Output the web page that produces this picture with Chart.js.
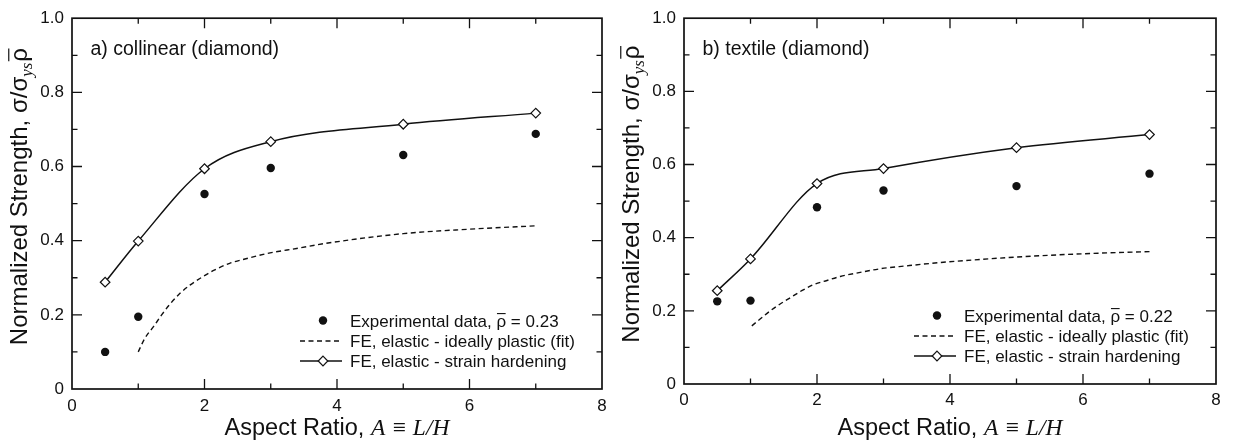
<!DOCTYPE html>
<html>
<head>
<meta charset="utf-8">
<script src="https://cdn.jsdelivr.net/npm/chart.js@4.4.1/dist/chart.umd.min.js"></script>
<style>
    html, body { margin: 0; padding: 0; background: #fff; }
    #wrap { position: relative; width: 1234px; height: 443px; }
    .panel { position: absolute; top: 0; width: 617px; height: 443px; }
</style>
</head>
<body>
<div id="wrap">
    <div class="panel" style="left:0"><canvas id="chartA"></canvas></div>
    <div class="panel" style="left:617px"><canvas id="chartB"></canvas></div>
</div>
<script>
(function () {
    // Aspect ratios where experiments / FE hardening runs were done
    const aspectRatios = [0.5, 1, 2, 3, 5, 7];
    const yTickLabels = ["0", "0.2", "0.4", "0.6", "0.8", "1.0"];

    // a) collinear (diamond)
    const expCollinear = [0.100, 0.195, 0.526, 0.596, 0.631, 0.688];
    const hardCollinear = [0.288, 0.399, 0.594, 0.667, 0.714, 0.744];
    const fitXCollinear = [1, 1.10, 1.23, 1.35, 1.48, 1.63, 1.78, 1.93, 2.13, 2.38, 2.64, 2.99, 3.39, 3.84, 5, 6, 7];
    const fitCollinear = [0.100, 0.137, 0.168, 0.199, 0.229, 0.258, 0.280, 0.298, 0.319, 0.339, 0.352, 0.367, 0.379, 0.393, 0.419, 0.431, 0.440];

    // b) textile (diamond)
    const expTextile = [0.226, 0.228, 0.483, 0.529, 0.541, 0.575];
    const hardTextile = [0.255, 0.342, 0.548, 0.589, 0.646, 0.682];
    const fitXTextile = [1.02, 1.14, 1.29, 1.44, 1.59, 1.77, 1.94, 2.15, 2.35, 2.65, 2.95, 3.35, 3.85, 5, 6, 7];
    const fitTextile = [0.159, 0.177, 0.199, 0.218, 0.235, 0.255, 0.271, 0.283, 0.294, 0.305, 0.315, 0.323, 0.332, 0.347, 0.356, 0.362];

    const panelNotes = ["a) collinear (diamond)", "b) textile (diamond)"];
    const expLabels = ["Experimental data, ρ = 0.23", "Experimental data, ρ = 0.22"];
    const fitLabel = "FE, elastic - ideally plastic (fit)";
    const hardLabel = "FE, elastic - strain hardening";

    const SANS = '"Liberation Sans", Arial, Helvetica, sans-serif';
    const SERIF = '"Liberation Serif", "Times New Roman", serif';
    const INK = "#111";

    const toPoints = (xs, ys) => xs.map((x, i) => ({ x, y: ys[i] }));

    // text with a bar over the rho (rho-bar = relative density)
    const fillOverlined = (ctx, text, x, y, size) => {
        ctx.fillText(text, x, y);
        const idx = text.indexOf("ρ");
        if (idx < 0) return;
        const before = ctx.measureText(text.slice(0, idx)).width;
        const w = ctx.measureText("ρ").width;
        ctx.beginPath();
        ctx.moveTo(x + before + 0.5, y - size * 0.76);
        ctx.lineTo(x + before + w - 0.5, y - size * 0.76);
        ctx.stroke();
    };

    const diamond = (ctx, x, y, r) => {
        ctx.beginPath();
        ctx.moveTo(x, y - r);
        ctx.lineTo(x + r, y);
        ctx.lineTo(x, y + r);
        ctx.lineTo(x - r, y);
        ctx.closePath();
        ctx.fillStyle = "#fff";
        ctx.fill();
        ctx.stroke();
    };

    const paperFrame = {
        id: "paperFrame",
        afterDraw(chart, args, opts) {
            const { ctx, chartArea: a, scales: { x, y } } = chart;
            ctx.save();
            ctx.strokeStyle = INK;
            ctx.fillStyle = INK;

            // box + inward ticks on all four sides
            ctx.lineWidth = 1.7;
            ctx.strokeRect(a.left, a.top, a.width, a.height);
            ctx.lineWidth = 1.3;
            ctx.beginPath();
            for (let v = 1; v < 8; v++) {
                const px = x.getPixelForValue(v);
                const len = v % 2 === 0 ? 10 : 5.5;
                ctx.moveTo(px, a.bottom); ctx.lineTo(px, a.bottom - len);
                ctx.moveTo(px, a.top); ctx.lineTo(px, a.top + len);
            }
            for (let i = 1; i < 10; i++) {
                const py = y.getPixelForValue(i / 10);
                const len = i % 2 === 0 ? 10 : 5.5;
                ctx.moveTo(a.left, py); ctx.lineTo(a.left + len, py);
                ctx.moveTo(a.right, py); ctx.lineTo(a.right - len, py);
            }
            ctx.stroke();

            // panel note
            ctx.font = `19.5px ${SANS}`;
            ctx.textBaseline = "middle";
            ctx.textAlign = "left";
            ctx.fillText(opts.note, a.left + 18.5, a.top + 31);

            // x title: sans part + italic serif part
            const xa = "Aspect Ratio, ";
            const xb = "A ≡ L/H";
            ctx.textBaseline = "alphabetic";
            ctx.font = `23.5px ${SANS}`;
            const wa = ctx.measureText(xa).width;
            ctx.font = `italic 23.5px ${SERIF}`;
            const wb = ctx.measureText(xb).width;
            const sx = (a.left + a.right) / 2 - (wa + wb) / 2;
            ctx.font = `23.5px ${SANS}`;
            ctx.fillText(xa, sx, chart.height - 8);
            ctx.font = `italic 23.5px ${SERIF}`;
            ctx.fillText(xb, sx + wa, chart.height - 8);

            // y title, rotated
            const ya = "Normalized Strength, σ/σ";
            const ys = "ys";
            const yr = "ρ";
            ctx.font = `24px ${SANS}`;
            const w1 = ctx.measureText(ya).width;
            const w3 = ctx.measureText(yr).width;
            ctx.font = `italic 17px ${SERIF}`;
            const w2 = ctx.measureText(ys).width + 1;
            const total = w1 + w2 + w3;
            ctx.save();
            ctx.translate(a.left - 45, (a.top + a.bottom) / 2 - 7);
            ctx.rotate(-Math.PI / 2);
            let tx = -total / 2;
            ctx.font = `24px ${SANS}`;
            ctx.fillText(ya, tx, 0);
            tx += w1;
            ctx.font = `italic 17px ${SERIF}`;
            ctx.fillText(ys, tx, 5);
            tx += w2;
            ctx.font = `24px ${SANS}`;
            ctx.lineWidth = 1.2;
            fillOverlined(ctx, yr, tx, 0, 24);
            ctx.restore();

            // legend, lower right inside the box
            const ds = chart.data.datasets;
            const rowY = [a.bottom - 68.5, a.bottom - 48, a.bottom - 28];
            const mx = a.right - 279;
            const l0 = a.right - 302;
            const l1 = a.right - 260;
            const textX = a.right - 252;

            ctx.beginPath();
            ctx.arc(mx, rowY[0], 4.2, 0, Math.PI * 2);
            ctx.fill();

            ctx.lineWidth = 1.4;
            ctx.setLineDash([5, 3.5]);
            ctx.beginPath();
            ctx.moveTo(l0, rowY[1]); ctx.lineTo(l1, rowY[1]);
            ctx.stroke();
            ctx.setLineDash([]);

            ctx.beginPath();
            ctx.moveTo(l0, rowY[2]); ctx.lineTo(l1, rowY[2]);
            ctx.stroke();
            ctx.lineWidth = 1.2;
            diamond(ctx, mx, rowY[2], 4.8);

            ctx.fillStyle = INK;
            ctx.font = `17px ${SANS}`;
            ctx.lineWidth = 1.1;
            ds.forEach((d, i) => fillOverlined(ctx, d.label, textX, rowY[i] + 6, 17));
            ctx.restore();
        },
    };

    const buildChart = (canvas, cfg) => {
        return new Chart(canvas.getContext("2d"), {
            type: "scatter",
            data: {
                datasets: [
                    {
                        label: cfg.expLabel,
                        data: toPoints(aspectRatios, cfg.exp),
                        pointStyle: "circle",
                        pointRadius: 4.2,
                        pointBorderWidth: 0,
                        backgroundColor: INK,
                        borderColor: INK,
                        showLine: false,
                    },
                    {
                        label: fitLabel,
                        data: toPoints(cfg.fitX, cfg.fit),
                        showLine: true,
                        pointRadius: 0,
                        borderColor: INK,
                        borderWidth: 1.4,
                        borderDash: [5, 3.5],
                        cubicInterpolationMode: "monotone",
                    },
                    {
                        label: hardLabel,
                        data: toPoints(aspectRatios, cfg.hard),
                        showLine: true,
                        pointStyle: "rectRot",
                        pointRadius: 4.8,
                        pointBorderWidth: 1.2,
                        pointBackgroundColor: "#fff",
                        pointBorderColor: INK,
                        borderColor: INK,
                        borderWidth: 1.5,
                        cubicInterpolationMode: "monotone",
                    },
                ],
            },
            options: {
                animation: false,
                responsive: true,
                maintainAspectRatio: false,
                layout: { padding: { top: cfg.padTop, right: cfg.padRight, left: 0, bottom: 0 } },
                plugins: {
                    legend: { display: false },
                    tooltip: { enabled: false },
                    paperFrame: { note: cfg.note },
                },
                scales: {
                    x: {
                        type: "linear",
                        min: 0,
                        max: 8,
                        grid: { display: false, drawTicks: false },
                        border: { display: false },
                        ticks: {
                            stepSize: 2,
                            autoSkip: false,
                            maxRotation: 0,
                            padding: cfg.xPad,
                            color: INK,
                            font: { family: SANS, size: 17 },
                        },
                        afterFit: (scale) => { scale.height = cfg.xHeight; },
                    },
                    y: {
                        min: 0,
                        max: 1,
                        grid: { display: false, drawTicks: false },
                        border: { display: false },
                        ticks: {
                            stepSize: 0.2,
                            autoSkip: false,
                            padding: 8,
                            color: INK,
                            font: { family: SANS, size: 17 },
                            callback: (value, index) => yTickLabels[index],
                        },
                        afterFit: (scale) => { scale.width = cfg.yWidth; },
                    },
                },
            },
            plugins: [paperFrame],
        });
    };

    buildChart(document.getElementById("chartA"), {
        exp: expCollinear, hard: hardCollinear, fitX: fitXCollinear, fit: fitCollinear,
        expLabel: expLabels[0], note: panelNotes[0],
        padTop: 18, padRight: 15, yWidth: 72, xHeight: 54, xPad: 7,
    });
    buildChart(document.getElementById("chartB"), {
        exp: expTextile, hard: hardTextile, fitX: fitXTextile, fit: fitTextile,
        expLabel: expLabels[1], note: panelNotes[1],
        padTop: 13, padRight: 18, yWidth: 67, xHeight: 59, xPad: 6,
    });
})();
</script>
</body>
</html>
